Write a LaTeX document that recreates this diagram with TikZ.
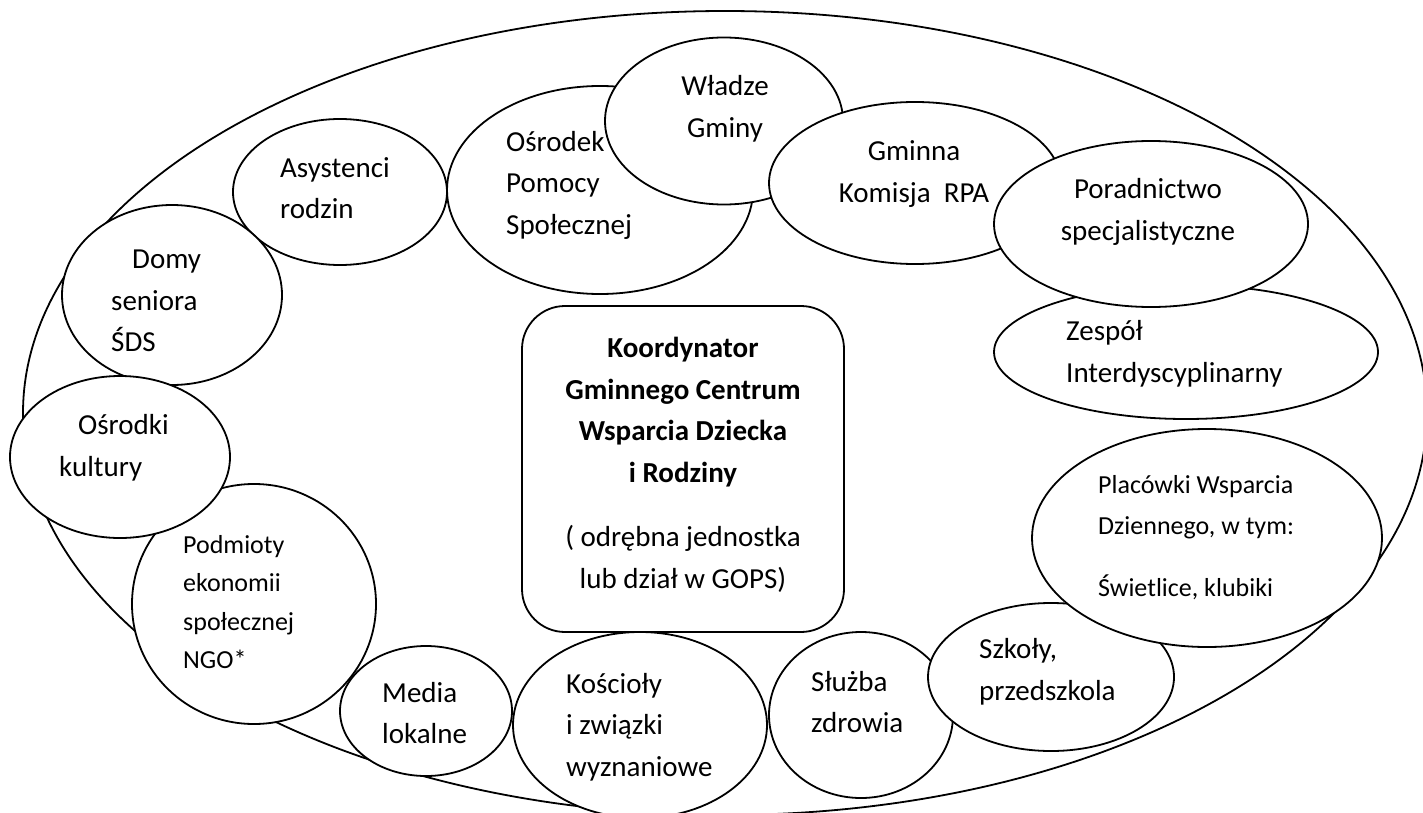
\documentclass[tikz,border=0pt]{standalone}
\usepackage{fontspec}
\setmainfont{Carlito}
\usetikzlibrary{shapes.geometric}
\begin{document}
\begin{tikzpicture}[x=1pt,y=-1pt,
  grp/.style={ellipse, draw, fill=white, line width=1.8pt, inner sep=0pt},
  lbl/.style={anchor=west, align=left, inner sep=0pt, font=\fontsize{29}{41.5}\selectfont},
  lblc/.style={align=center, inner sep=0pt, font=\fontsize{29}{41.5}\selectfont},
  lbls/.style={anchor=west, align=left, inner sep=0pt, font=\fontsize{26}{38.5}\selectfont}]
\useasboundingbox (0,0) rectangle (1423,813);
\clip (0,0) rectangle (1423,813);
\node[grp, minimum width=1404pt, minimum height=804pt] (outer) at (725,413){};
\node[grp, minimum width=306pt, minimum height=208pt] (osrodek) at (600,190){};
\node[grp, minimum width=238pt, minimum height=167pt] (wladze) at (724,121){};
\node[grp, minimum width=292pt, minimum height=162pt] (gminna) at (915,183){};
\node[grp, minimum width=384pt, minimum height=134pt] (zespol) at (1186,352){};
\node[grp, minimum width=314pt, minimum height=166pt] (poradn) at (1151,224){};
\node[grp, minimum width=214pt, minimum height=146pt] (asyst) at (340,192){};
\node[grp, minimum width=220pt, minimum height=180pt] (domy) at (172,295){};
\node[grp, minimum width=244pt, minimum height=240pt] (podm) at (254,604){};
\node[grp, minimum width=220pt, minimum height=162pt] (osrodki) at (120,457){};
\node[grp, minimum width=172pt, minimum height=130pt] (media) at (426,711){};
\node[grp, minimum width=254pt, minimum height=186pt] (kosc) at (640,725){};
\node[grp, minimum width=184pt, minimum height=166pt] (sluzba) at (861,715){};
\node[grp, minimum width=246pt, minimum height=148pt] (szkoly) at (1051,677){};
\node[grp, minimum width=350pt, minimum height=218pt] (placowki) at (1207,538){};
\node[draw, rounded corners=43pt, line width=1.8pt, minimum width=322pt, minimum height=326pt] (koord) at (683,469){};

\node[lbl] (asyst-t) at (280,188){Asystenci\\rodzin};
\node[lbl] (osrodek-t) at (506,185){Ośrodek\\Pomocy\\Społecznej};
\node[lblc] (wladze-t) at (725,109){Władze\\Gminy};
\node[lblc] (gminna-t) at (914,174){Gminna\\Komisja~~RPA};
\node[lblc] (poradn-t) at (1148,212){Poradnictwo\\specjalistyczne};
\node[lbl] (zespol-t) at (1066,354){Zespół\\Interdyscyplinarny};
\node[lbl] (domy-t) at (111,301){\hspace*{21pt}Domy\\seniora\\ŚDS};
\node[lbl] (osrodki-t) at (59,448){\hspace*{19pt}Ośrodki\\kultury};
\node[lbls] (podm-t) at (183,602){Podmioty\\ekonomii\\społecznej\\NGO*};
\node[lbl] (media-t) at (382,713){Media\\lokalne};
\node[lbl] (kosc-t) at (566,727){Kościoły\\i związki\\wyznaniowe};
\node[lbl] (sluzba-t) at (811,702){Służba\\zdrowia};
\node[lbl] (szkoly-t) at (979,672){Szkoły,\\przedszkola};
\node[lbls, font=\fontsize{26}{41}\selectfont] (placowki-t) at (1098,538){Placówki Wsparcia\\Dziennego, w tym:\\[21pt]Świetlice, klubiki};
\node[lblc] (koord-t) at (683,465){\textbf{Koordynator}\\\textbf{Gminnego Centrum}\\\textbf{Wsparcia Dziecka}\\\textbf{i Rodziny}\\[23pt]( odrębna jednostka\\lub dział w GOPS)};

\end{tikzpicture}
\end{document}
